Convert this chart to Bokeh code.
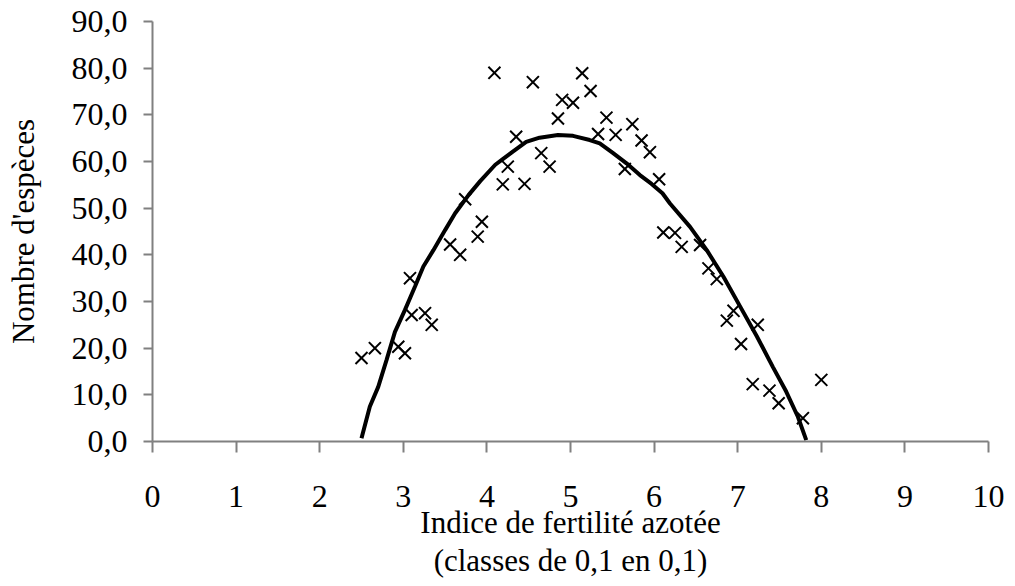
from bokeh.plotting import figure
from bokeh.models import Range1d, FixedTicker
from bokeh.embed import file_html
from bokeh.resources import INLINE

# ---- data ----
pts_x = [2.50, 2.66, 2.94, 3.02, 3.08, 3.10, 3.26, 3.34, 3.56, 3.68, 3.74, 3.89,
         3.94, 4.09, 4.19, 4.25, 4.35, 4.45, 4.55, 4.65, 4.75, 4.85, 4.90, 5.03,
         5.14, 5.24, 5.33, 5.43, 5.54, 5.65, 5.74, 5.85, 5.95, 6.06, 6.11, 6.25,
         6.33, 6.55, 6.65, 6.75, 6.87, 6.95, 7.04, 7.18, 7.24, 7.38, 7.49, 7.78, 8.00]
pts_y = [17.9, 20.0, 20.3, 18.9, 35.0, 27.1, 27.5, 25.0, 42.2, 40.0, 51.9, 43.9,
         47.1, 79.0, 55.1, 58.9, 65.3, 55.2, 77.0, 61.8, 58.9, 69.2, 73.2, 72.6,
         78.9, 75.1, 65.9, 69.4, 65.7, 58.4, 68.0, 64.5, 62.0, 56.2, 44.8, 44.7,
         41.7, 42.1, 37.1, 34.8, 25.9, 28.0, 20.9, 12.3, 25.0, 10.9, 8.2, 5.0, 13.2]

curve_x = [2.50, 2.60, 2.70, 2.80, 2.90, 3.02, 3.14, 3.24, 3.36, 3.50, 3.62, 3.78,
           3.92, 4.10, 4.19, 4.31, 4.47, 4.63, 4.85, 5.03, 5.23, 5.35, 5.51, 5.67,
           5.83, 5.97, 6.10, 6.19, 6.43, 6.63, 6.83, 7.03, 7.23, 7.42, 7.58, 7.72, 7.82]
curve_y = [0.7, 7.5, 11.7, 17.5, 23.5, 28.2, 33.2, 37.5, 41.0, 45.3, 48.9, 52.8,
           55.8, 59.3, 60.5, 62.1, 64.2, 65.1, 65.7, 65.5, 64.6, 63.9, 61.8, 59.6,
           57.1, 55.2, 53.2, 51.0, 46.0, 41.0, 35.3, 28.9, 22.5, 16.0, 10.7, 5.3, 0.3]

x_ticks = [0, 1, 2, 3, 4, 5, 6, 7, 8, 9, 10]
x_tick_labels = ["0", "1", "2", "3", "4", "5", "6", "7", "8", "9", "10"]
y_ticks = [0, 10, 20, 30, 40, 50, 60, 70, 80, 90]
y_tick_labels = ["0,0", "10,0", "20,0", "30,0", "40,0", "50,0", "60,0", "70,0", "80,0", "90,0"]

x_title = "Indice de fertilité azotée"
x_subtitle = "(classes de 0,1 en 0,1)"
y_title = "Nombre d'espèces"

FONT = "Liberation Serif"
AXIS_COLOR = "#808080"

p = figure(frame_width=836, frame_height=420,
           min_border_left=152, min_border_right=20,
           min_border_top=21, min_border_bottom=125,
           x_range=Range1d(0, 10), y_range=Range1d(0, 90),
           output_backend="svg", toolbar_location=None,
           background_fill_color="white", border_fill_color="white")
p.outline_line_color = None
p.grid.visible = False

for ax in (p.xaxis[0], p.yaxis[0]):
    ax.axis_line_color = AXIS_COLOR
    ax.axis_line_width = 2
    ax.major_tick_line_color = AXIS_COLOR
    ax.major_tick_line_width = 2
    ax.major_tick_in = 0
    ax.minor_tick_line_color = None
    ax.major_label_text_font = FONT
    ax.major_label_text_font_size = "32px"
    ax.major_label_text_color = "black"
    ax.axis_label_text_font = FONT
    ax.axis_label_text_font_size = "31px"
    ax.axis_label_text_font_style = "normal"
    ax.axis_label_text_color = "black"

p.xaxis.ticker = FixedTicker(ticks=x_ticks)
p.xaxis.major_label_overrides = {t: l for t, l in zip(x_ticks, x_tick_labels)}
p.xaxis.major_tick_out = 11
p.xaxis.major_label_standoff = 33
p.xaxis.axis_label = x_title + "\n" + x_subtitle
p.xaxis.axis_label_standoff = -5
p.xaxis.axis_label_text_line_height = 1.1

p.yaxis.ticker = FixedTicker(ticks=y_ticks)
p.yaxis.major_label_overrides = {t: l for t, l in zip(y_ticks, y_tick_labels)}
p.yaxis.major_tick_out = 9
p.yaxis.major_label_standoff = 16
p.yaxis.axis_label = y_title
p.yaxis.axis_label_standoff = 28

p.line(curve_x, curve_y, line_color="black", line_width=4)
p.scatter(pts_x, pts_y, marker="x", size=17, line_color="black", line_width=2)

open("out.html", "w").write(file_html(p, INLINE))
